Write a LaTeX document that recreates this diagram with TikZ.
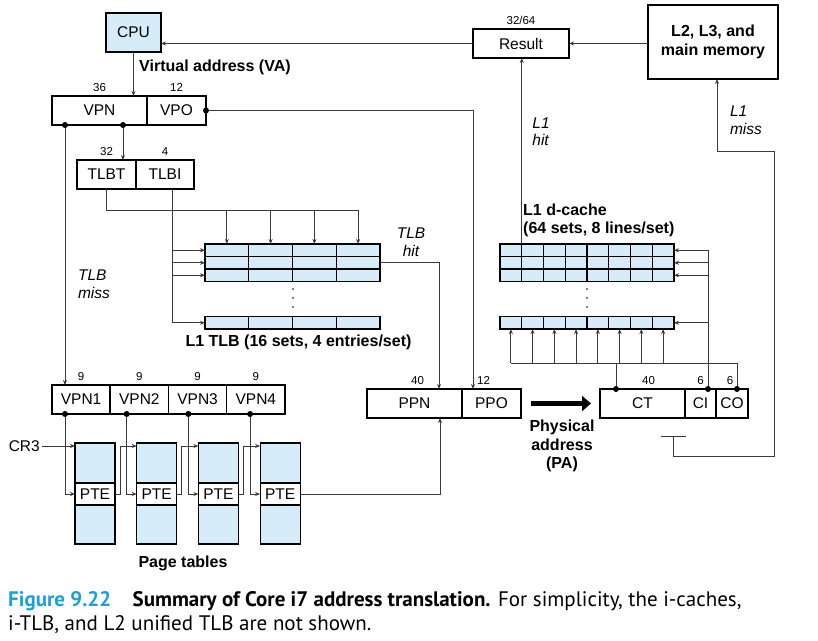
\documentclass[tikz,border=0pt]{standalone}
\usepackage{fontspec}
\setmainfont{Liberation Sans}
\newfontfamily\capfont{PT Sans}
\definecolor{cellblue}{HTML}{D6ECF8}
\definecolor{figblue}{HTML}{1BA0DC}
\definecolor{wirecol}{HTML}{3A3A3A}
\usetikzlibrary{arrows.meta, positioning, calc}

\tikzset{
  field/.style = {rectangle, draw = black, line width = 1.5pt, inner sep = 0pt, outer sep = 0pt, minimum height = 29pt, font = \fontsize{15.5}{18}\selectfont},
  cell/.style = {rectangle, draw = black, line width = 1.2pt, fill = cellblue, inner sep = 0pt, outer sep = 0pt, minimum height = 12.5pt},
  wire/.style = {draw = wirecol, line width = 0.9pt},
  arr/.style = {wire, -{Stealth[length=5pt, width=4pt]}},
  num/.style = {font = \fontsize{11.5}{13}\selectfont, inner sep = 1pt},
  lbl/.style = {font = \fontsize{16}{18.5}\selectfont\bfseries, align = center, inner sep = 0pt},
  hitlbl/.style = {font = \fontsize{15.5}{17.5}\selectfont\itshape, align = left, inner sep = 0pt}
}

\begin{document}
\begin{tikzpicture}[x = 1pt, y = -1pt]
\useasboundingbox (0,0) rectangle (818,640);
% top row
\node[field, fill = cellblue, minimum width = 55pt, minimum height = 39pt] (cpu) at (133.5,32.5) {CPU};
\node[field, minimum width = 96pt] (result) at (521,43.5) {Result};
\node[num, above = 3pt of result] (resbits) {32/64};
\node[field, minimum width = 130pt, minimum height = 74pt, font = \fontsize{16}{19}\selectfont\bfseries, align = center] (mem) at (713,42) {L2, L3, and\\main memory};
\draw[arr] (mem.west |- result.east) -- (result.east);
\draw[arr] (result.west) -- (result.west -| cpu.east);

% virtual address
\node[lbl, anchor = west] (va) at (139,67) {Virtual address (VA)};
\node[field, minimum width = 95pt] (vpn) at (99.5,110.5) {VPN};
\node[field, minimum width = 59pt, right = 0pt of vpn] (vpo) {VPO};
\node[num, above = 3pt of vpn] (vpnbits) {36};
\node[num, above = 3pt of vpo] (vpobits) {12};
\draw[arr] (cpu.south) -- (cpu.south |- vpn.north);

\node[field, minimum width = 59pt] (tlbt) at (106.5,174.5) {TLBT};
\node[field, minimum width = 58pt, right = 0pt of tlbt] (tlbi) {TLBI};
\node[num, above = 3pt of tlbt] (tlbtbits) {32};
\node[num, above = 3pt of tlbi] (tlbibits) {4};
\draw[arr] ([xshift=71pt]vpn.south west) -- ([xshift=71pt]vpn.south west |- tlbt.north);
\fill ([xshift=71pt]vpn.south west) circle (3pt);

% L1 TLB
\foreach \r/\y in {1/250.25, 2/262.75, 3/275.25, 4/322.75}
  \foreach \c in {1,...,4}
    \node[cell, minimum width = 43.75pt] (tlb-\r-\c) at ({205+43.75*(\c-0.5)},\y) {};
\foreach \y in {289,298,307} \fill (293,\y) circle (0.9pt);
\node[lbl] (tlblbl) at (298.5,342) {L1 TLB (16 sets, 4 entries/set)};
\draw[wire] (tlbt.south) |- ([yshift=34pt]tlb-1-4.north);
\foreach \c in {1,...,4}
  \draw[arr] ([yshift=34pt]tlb-1-\c.north) -- (tlb-1-\c.north);
\draw[arr] ([xshift=7pt]tlbi.south) |- (tlb-4-1.west);
\foreach \r in {1,2,3}
  \draw[arr] ([xshift=7pt]tlbi.south |- tlb-\r-1.west) -- (tlb-\r-1.west);
\node[hitlbl, align = center] (tlbhit) at (411,242) {TLB\\hit};

% page walk
\node[field, minimum width = 58.25pt] (vpn1) at (81.1,399.5) {VPN1};
\foreach \i [remember = \i as \j (initially 1)] in {2,3,4}
  \node[field, minimum width = 58.25pt, right = 0pt of vpn\j] (vpn\i) {VPN\i};
\foreach \i in {1,...,4}
  \node[num, above = 3pt of vpn\i] (bits\i) {9};
\draw[arr] ([xshift=13pt]vpn.south west) -- ([xshift=13pt]vpn.south west |- vpn1.north);
\fill ([xshift=13pt]vpn.south west) circle (3pt);
\node[hitlbl] (tlbmiss) at (94,284) {TLB\\miss};

\foreach \i/\x in {1/75, 2/136.7, 3/198.4, 4/260.1} {
  \node[cell, minimum width = 40pt, minimum height = 40pt, anchor = north west] (top\i) at (\x,443) {};
  \node[cell, fill = white, minimum width = 40pt, minimum height = 22pt, below = 0pt of top\i, font = \fontsize{15.5}{18}\selectfont] (pte\i) {PTE};
  \node[cell, minimum width = 40pt, minimum height = 39pt, below = 0pt of pte\i] (bot\i) {};
  \draw[arr] ([xshift=-10pt]top\i.north west |- vpn\i.south) |- (pte\i.west);
  \fill ([xshift=-10pt]top\i.north west |- vpn\i.south) circle (3pt);
}
\foreach \i [remember = \i as \j (initially 1)] in {2,3,4}
  \draw[arr] (pte\j.east) -- ++(5,0) |- ([yshift=-3pt]top\i.north west);
\node[font = \fontsize{15.5}{18}\selectfont, inner sep = 0pt, anchor = east] (cr3) at (40,446) {CR3};
\draw[arr] ([xshift=2pt]cr3.east) -- ([yshift=-3pt]top1.north west);
\node[lbl] (pagetbl) at (183,563) {Page tables};

% physical address
\node[field, minimum width = 95pt] (ppn) at (414.5,403.5) {PPN};
\node[field, minimum width = 59pt, right = 0pt of ppn] (ppo) {PPO};
\node[num, above = 3pt of ppn, xshift = 3pt] (ppnbits) {40};
\node[num, above = 3pt of ppo, xshift = -8pt] (ppobits) {12};
\draw[arr] (vpo.east) -| ([xshift=11pt]ppo.north west);
\fill (vpo.east) circle (3pt);
\draw[arr] (tlb-2-4.east) -| ([xshift=72pt]ppn.north west);
\draw[arr] (pte4.east) -| ([xshift=73pt]ppn.south west);

\node[field, minimum width = 85pt] (ct) at (642.5,403.5) {CT};
\node[field, minimum width = 31pt, right = 0pt of ct] (ci) {CI};
\node[field, minimum width = 32pt, right = 0pt of ci] (co) {CO};
\node[num, above = 3pt of ct, xshift = 6pt] (ctbits) {40};
\node[num, above = 3pt of ci] (cibits) {6};
\node[num, above = 3pt of co, xshift = -2pt] (cobits) {6};
\draw[line width = 5pt, -{Triangle[length=9pt, width=15pt]}, shorten <= 10pt, shorten >= 9pt] (ppo.east) -- (ct.west);
\node[lbl] (pa) at (562,446) {Physical\\address\\(PA)};

% L1 d-cache
\foreach \r/\y in {1/250.25, 2/262.75, 3/275.25, 4/322.75}
  \foreach \c in {1,...,8}
    \node[cell, minimum width = 21.75pt] (dc-\r-\c) at ({500+21.75*(\c-0.5)},\y) {};
\foreach \y in {289,298,307} \fill (587,\y) circle (0.9pt);
\node[lbl, align = left, anchor = west, font = \fontsize{16}{17.5}\selectfont\bfseries] (dclbl) at (523,220.5) {L1 d-cache\\(64 sets, 8 lines/set)};
\draw[arr] ([xshift=7.5pt]ci.north) |- (dc-1-8.east);
\foreach \r in {2,3,4}
  \draw[arr] ([xshift=7.5pt]ci.north |- dc-\r-8.east) -- (dc-\r-8.east);
\fill ([xshift=7.5pt]ci.north) circle (3pt);
\coordinate (cobus) at ([xshift=21pt,yshift=26pt]co.north west);
\draw[wire] ([yshift=-34pt]dc-4-1.south) -- (cobus) -- ([xshift=21pt]co.north west);
\draw[wire] ([xshift=16pt]ct.north west) -- ([xshift=16pt]ct.north west |- cobus);
\fill ([xshift=21pt]co.north west) circle (3pt);
\fill ([xshift=16pt]ct.north west) circle (3pt);
\foreach \c in {1,...,8}
  \draw[arr] ([yshift=-34pt]dc-4-\c.south) -- (dc-4-\c.south);
\draw[arr] (dc-1-1.north east) -- (dc-1-1.north east |- result.south);
\node[hitlbl] (l1hit) at (541,131.5) {L1\\hit};

% L1 miss
\coordinate (gnd) at (673,436);
\draw[wire] ([xshift=-12pt]gnd) -- ([xshift=13pt]gnd);
\draw[arr] (gnd) -- ++(0,20) -| ++(101,-305) -| ([xshift=4pt]mem.south);
\node[hitlbl] (l1miss) at (746,120) {L1\\miss};

% caption
\node[anchor = north west, inner sep = 0pt, align = left, font = \capfont\fontsize{21}{24}\selectfont] (caption) at (8,591) {\textcolor{figblue}{\textbf{Figure 9.22}}\hspace{0.75em} \textbf{Summary of Core i7 address translation.} For simplicity, the i-caches,\\i-TLB, and L2 unified TLB are not shown.};
\end{tikzpicture}
\end{document}
